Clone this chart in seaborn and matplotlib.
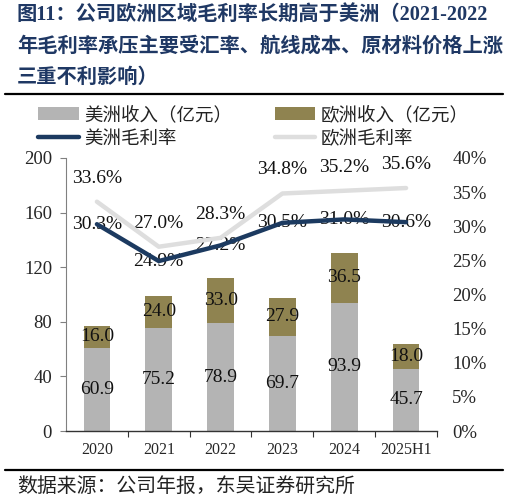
import numpy as np
import matplotlib
matplotlib.use("Agg")
import matplotlib.pyplot as plt
from matplotlib.patches import Patch
from matplotlib.lines import Line2D
import seaborn as sns

# data
years = ["2020", "2021", "2022", "2023", "2024", "2025H1"]
us_rev = [60.9, 75.2, 78.9, 69.7, 93.9, 45.7]
eu_rev = [16.0, 24.0, 33.0, 27.9, 36.5, 18.0]
us_margin = [30.3, 24.9, 27.2, 30.5, 31.0, 30.6]
eu_margin = [33.6, 27.0, 28.3, 34.8, 35.2, 35.6]

gray = "#b4b4b4"
olive = "#8f8350"
navy = "#1c3a60"
light = "#dedede"
title_c = "#1f3864"

sns.set_style("white")
plt.rcParams["font.family"] = ["Liberation Serif", "Noto Sans CJK SC", "DejaVu Sans"]
cjk = ["Noto Sans CJK SC", "DejaVu Sans"]

fig = plt.figure(figsize=(5.09, 5.04), dpi=100)
W, H = 509, 504
ax = fig.add_axes([66 / W, 1 - 431 / H, (437 - 66) / W, (431 - 158) / H])

totals = [u + e for u, e in zip(us_rev, eu_rev)]
sns.barplot(x=years, y=totals, color=olive, width=0.43, saturation=1,
            errorbar=None, linewidth=0, ax=ax)
sns.barplot(x=years, y=us_rev, color=gray, width=0.43, saturation=1,
            errorbar=None, linewidth=0, ax=ax)

for i in range(len(years)):
    ax.text(i, us_rev[i] / 2, f"{us_rev[i]:.1f}", ha="center", va="center",
            fontsize=14, color="#111111")
    ax.text(i, us_rev[i] + eu_rev[i] / 2, f"{eu_rev[i]:.1f}", ha="center",
            va="center", fontsize=14, color="#111111")

ax.set_xlim(-0.5, len(years) - 0.5)
ax.set_ylim(0, 200)
ax.set_yticks([0, 40, 80, 120, 160, 200])
ax.set_xlabel("")
ax.set_ylabel("")
ax.tick_params(axis="y", labelsize=13.5, length=4, width=0.8, color="#808080",
               pad=6, direction="out", left=True)
ax.tick_params(axis="x", which="major", labelsize=11.5, length=0, pad=8)
ax.set_xticks(np.arange(len(years)) + 0.5, minor=True)
ax.tick_params(axis="x", which="minor", length=4, width=0.8, color="#333333",
               direction="out", bottom=True)
for s in ["top", "right"]:
    ax.spines[s].set_visible(False)
ax.spines["left"].set_color("#808080")
ax.spines["bottom"].set_color("#333333")
ax.spines["left"].set_linewidth(0.8)
ax.spines["bottom"].set_linewidth(1.0)

ax2 = ax.twinx()
xs = np.arange(len(years))
sns.lineplot(x=xs, y=eu_margin, color=light, linewidth=3.2, ax=ax2,
             solid_capstyle="round", zorder=4)
sns.lineplot(x=xs, y=us_margin, color=navy, linewidth=3.2, ax=ax2,
             solid_capstyle="round", zorder=4)
ax2.set_ylim(0, 40)
ax2.set_yticks(range(0, 41, 5))
ax2.set_yticklabels([f"{v}%" for v in range(0, 41, 5)])
ax2.tick_params(axis="y", labelsize=13.5, length=0, pad=11)
for lab in ax2.get_yticklabels():
    lab.set_ha("left")
for s in ax2.spines.values():
    s.set_visible(False)
ax2.set_xlim(-0.5, len(years) - 0.5)

for i in range(len(years)):
    ax2.text(i, us_margin[i], f"{us_margin[i]:.1f}%", ha="center", va="center",
             fontsize=14, color="#111111", zorder=3)
    ax2.annotate(f"{eu_margin[i]:.1f}%", (i, eu_margin[i]), xytext=(0, 17),
                 textcoords="offset points", ha="center", va="center",
                 fontsize=14, color="#111111")

# title
title_lines = ["图11：公司欧洲区域毛利率长期高于美洲（2021-2022",
               "年毛利率承压主要受汇率、航线成本、原材料价格上涨",
               "三重不利影响）"]
for k, (line, yy) in enumerate(zip(title_lines, [15, 47, 78])):
    fig.text(17 / W, 1 - yy / H, line, ha="left", va="center", fontsize=14.6,
             fontweight="bold", color=title_c,
             family=["Liberation Serif", "Noto Sans CJK SC"])

fig.add_artist(Line2D([5 / W, 503 / W], [1 - 94 / H, 1 - 94 / H],
                      color="black", linewidth=1.6))
fig.add_artist(Line2D([5 / W, 503 / W], [1 - 470 / H, 1 - 470 / H],
                      color="black", linewidth=1.6))
fig.text(17 / W, 1 - 486 / H, "数据来源：公司年报，东吴证券研究所", ha="left",
         va="center", fontsize=14.3, color="#222222", family=cjk)

handles = [Patch(facecolor=gray, edgecolor="none"),
           Patch(facecolor=olive, edgecolor="none"),
           Line2D([], [], color=navy, linewidth=3.2, solid_capstyle="round"),
           Line2D([], [], color=light, linewidth=3.2, solid_capstyle="round")]
labels = ["美洲收入（亿元）", "欧洲收入（亿元）", "美洲毛利率", "欧洲毛利率"]
# legend rows: 美洲收入 / 欧洲收入, then 美洲毛利率 / 欧洲毛利率
leg = fig.legend([handles[0], handles[2], handles[1], handles[3]],
                 [labels[0], labels[2], labels[1], labels[3]],
                 ncol=2, loc="upper left",
                 bbox_to_anchor=(38 / W, 1 - 106 / H), frameon=False,
                 prop={"family": cjk, "size": 13.3}, handlelength=2.2,
                 handletextpad=0.3, columnspacing=2.3, labelspacing=0.32,
                 borderpad=0, borderaxespad=0)
for t in leg.get_texts():
    t.set_color("#222222")

fig.savefig("out.png", dpi=100)
